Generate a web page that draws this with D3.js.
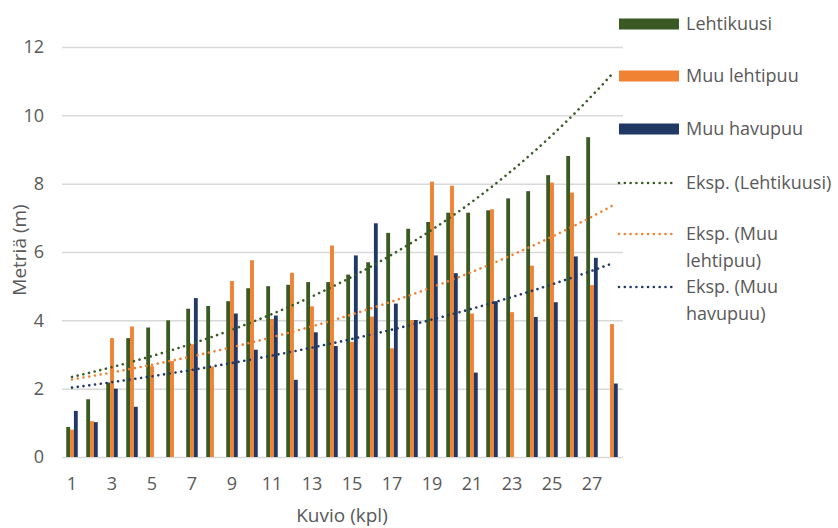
<!DOCTYPE html>
<html>
<head>
<meta charset="utf-8">
<script src="https://cdn.jsdelivr.net/npm/d3@7"></script>
<style>
  html, body { margin: 0; padding: 0; background: #fff; }
  svg { display: block; }
  text { font-family: "Open Sans", "Liberation Sans", sans-serif; fill: #595959; }
</style>
</head>
<body>
<svg id="chart" width="838" height="528"></svg>
<script>
const categories = [1,2,3,4,5,6,7,8,9,10,11,12,13,14,15,16,17,18,19,20,21,22,23,24,25,26,27,28];
const lehtikuusi  = [0.88,1.69,2.18,3.48,3.79,4.0,4.34,4.42,4.56,4.94,5.0,5.04,5.12,5.12,5.34,5.7,6.56,6.68,6.88,7.15,7.15,7.22,7.57,7.78,8.25,8.81,9.36,null];
const muuLehtipuu = [0.8,1.05,3.48,3.82,2.66,2.81,3.3,2.65,5.15,5.76,4.04,5.39,4.41,6.19,3.37,4.11,3.18,4.01,8.06,7.94,4.2,7.25,4.24,5.6,8.03,7.74,5.03,3.89];
const muuHavupuu  = [1.35,1.02,2.0,1.47,null,null,4.65,null,4.2,3.14,4.14,2.26,3.65,3.25,5.9,6.84,4.49,4.01,5.9,5.38,2.47,4.56,null,4.1,4.53,5.87,5.83,2.15];
const seriesNames = ["Lehtikuusi","Muu lehtipuu","Muu havupuu"];
const trendNames  = ["Eksp. (Lehtikuusi)","Eksp. (Muu lehtipuu)","Eksp. (Muu havupuu)"];
const yTicks = [0,2,4,6,8,10,12];
const xTickLabels = [1,3,5,7,9,11,13,15,17,19,21,23,25,27];
const yTitle = "Metriä (m)";
const xTitle = "Kuvio (kpl)";
const colors = ["#3a5a24","#ef8233","#203864"];

const seriesData = [lehtikuusi, muuLehtipuu, muuHavupuu];
const svg = d3.select("#chart");

const plotL = 62, plotR = 622, plotT = 47, plotB = 457;
const x = d3.scaleBand().domain(categories).range([plotL, plotR]).padding(0);
const groupW = x.bandwidth() * 0.575;
const xs = d3.scaleBand().domain(seriesNames).range([0, groupW]).padding(0);
const y = d3.scaleLinear().domain([0, 12]).range([plotB, plotT]);

// grid
const grid = svg.append("g").attr("transform", `translate(${plotL},0)`)
  .call(d3.axisLeft(y).tickValues(yTicks).tickSize(-(plotR - plotL + 1)).tickFormat(""));
grid.select(".domain").remove();
grid.selectAll("line").attr("stroke", "#d9d9d9").attr("stroke-width", 1.5);

// y labels
const yAx = svg.append("g").attr("transform", `translate(44,0)`)
  .call(d3.axisLeft(y).tickValues(yTicks).tickSize(0).tickPadding(0));
yAx.select(".domain").remove();
yAx.selectAll("text").style("font-size", "18px").attr("fill", "#595959")
  .style("font-family", '"Open Sans", sans-serif');

// x labels
const xAx = svg.append("g").attr("transform", `translate(0,${plotB})`)
  .call(d3.axisBottom(x).tickValues(xTickLabels).tickSize(0).tickPadding(20));
xAx.select(".domain").remove();
xAx.selectAll("text").style("font-size", "18px").attr("fill", "#595959")
  .style("font-family", '"Open Sans", sans-serif');

// bars
seriesData.forEach((vals, si) => {
  svg.append("g").selectAll("rect")
    .data(categories.map((c, i) => ({c, v: vals[i]})).filter(d => d.v != null))
    .join("rect")
    .attr("x", d => x(d.c) + (x.bandwidth() - groupW) / 2 + xs(seriesNames[si]))
    .attr("width", xs.bandwidth())
    .attr("y", d => y(d.v))
    .attr("height", d => y(0) - y(d.v))
    .attr("fill", colors[si]);
});

// exponential trendlines (least squares on ln(y), Excel-style)
function expFit(vals) {
  const pts = categories.map((c, i) => [i + 1, vals[i]]).filter(p => p[1] != null && p[1] > 0);
  const mx = d3.mean(pts, p => p[0]);
  const my = d3.mean(pts, p => Math.log(p[1]));
  const sxy = d3.sum(pts, p => (p[0] - mx) * (Math.log(p[1]) - my));
  const sxx = d3.sum(pts, p => (p[0] - mx) ** 2);
  const b = sxy / sxx, a = my - b * mx;
  return k => Math.exp(a + b * k);
}
const line = d3.line().x(d => d[0]).y(d => d[1]);
seriesData.forEach((vals, si) => {
  const f = expFit(vals);
  const pts = [];
  for (let k = 1; k <= categories.length; k += 0.25) {
    const cx = x(categories[0]) + x.bandwidth() / 2 + (k - 1) * x.step();
    pts.push([cx, y(f(k))]);
  }
  svg.append("path").attr("d", line(pts)).attr("fill", "none")
    .attr("stroke", colors[si]).attr("stroke-width", 2.6)
    .attr("stroke-linecap", "round").attr("stroke-dasharray", "0.01 5.8");
});

// axis titles
svg.append("text").attr("transform", "translate(26,250) rotate(-90)")
  .attr("text-anchor", "middle").style("font-size", "19px").text(yTitle);
svg.append("text").attr("x", (plotL + plotR) / 2).attr("y", 522)
  .attr("text-anchor", "middle").style("font-size", "19px").text(xTitle);

// legend
const lg = svg.append("g");
const swY = [24, 76, 129];
seriesNames.forEach((n, i) => {
  lg.append("rect").attr("x", 619).attr("y", swY[i] - 5.5).attr("width", 60).attr("height", 11).attr("fill", colors[i]);
  lg.append("text").attr("x", 686).attr("y", swY[i]).attr("dy", "0.35em").style("font-size", "18px").text(n);
});
const trY = [183, 234, 287];
const trLines = [["Eksp. (Lehtikuusi)"], ["Eksp. (Muu", "lehtipuu)"], ["Eksp. (Muu", "havupuu)"]];
trendNames.forEach((n, i) => {
  lg.append("path").attr("d", `M619,${trY[i]}H676`).attr("stroke", colors[i])
    .attr("stroke-width", 2.6).attr("stroke-linecap", "round").attr("stroke-dasharray", "0.01 5.8");
  const t = lg.append("text").attr("x", 686).attr("y", trY[i]).style("font-size", "18px");
  trLines[i].forEach((s, j) => t.append("tspan").attr("x", 686).attr("dy", j === 0 ? "0.35em" : "27px").text(s));
});
</script>
</body>
</html>
